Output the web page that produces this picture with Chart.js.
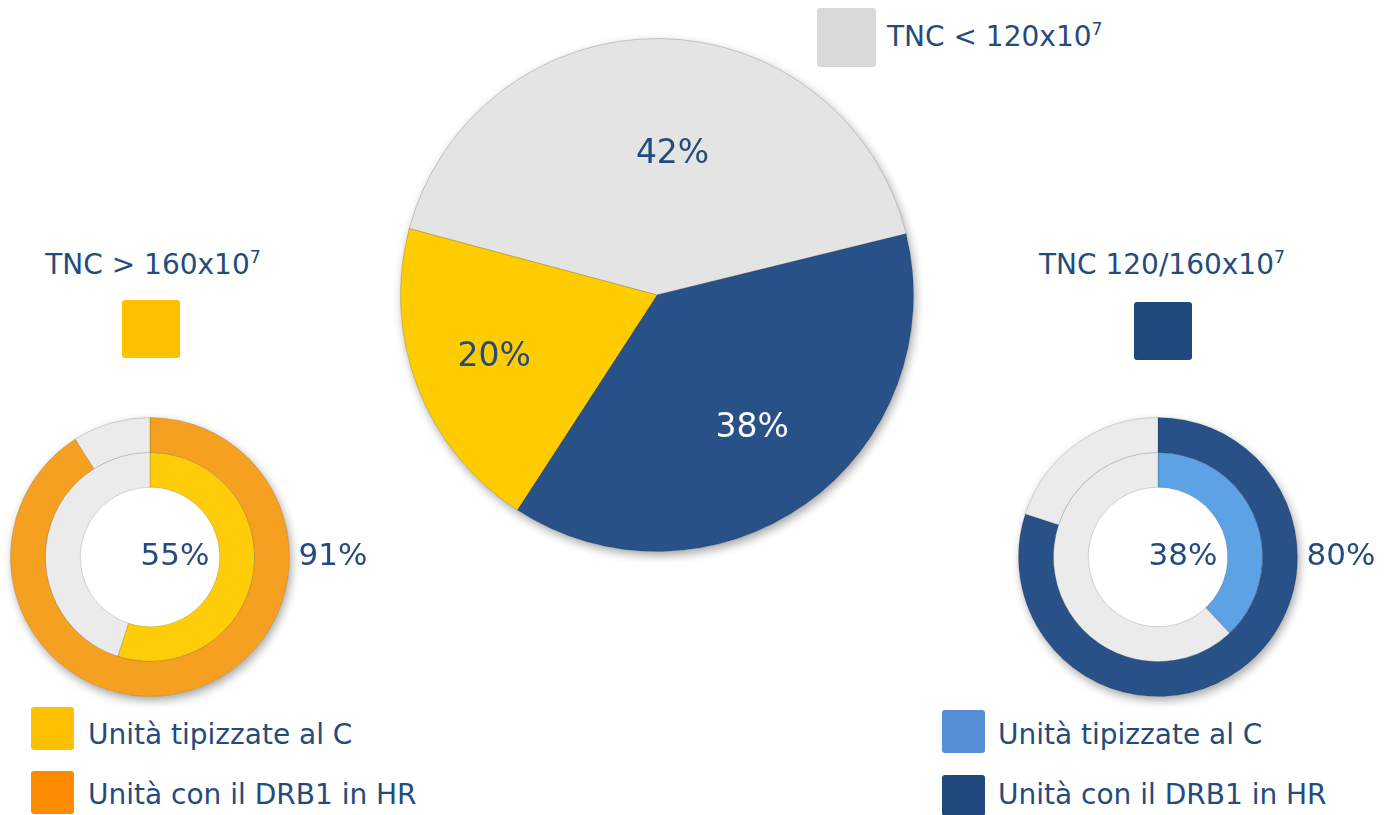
<!DOCTYPE html>
<html>
<head>
<meta charset="utf-8">
<script src="https://cdn.jsdelivr.net/npm/chart.js@4.4.1/dist/chart.umd.min.js"></script>
<style>
  body { margin: 0; width: 1389px; height: 815px; background: #fff; position: relative; overflow: hidden;
         font-family: "DejaVu Sans", Verdana, sans-serif; color: #234B7D; }
  canvas, .box, .txt { position: absolute; }
  .box { border-radius: 3px; }
  .txt { font-size: 28px; white-space: nowrap; line-height: 1; }
  .mid { transform: translateX(-50%); }
  sup { font-size: 62%; vertical-align: 0.65em; line-height: 0; }
</style>
</head>
<body>

<div class="box" style="left:817px;top:8px;width:59px;height:59px;background:#D9D9D9"></div>
<div class="txt" style="left:887px;top:23px">TNC &lt; 120x10<sup>7</sup></div>

<div class="txt mid" style="left:153px;top:251px">TNC &gt; 160x10<sup>7</sup></div>
<div class="box" style="left:122px;top:300px;width:58px;height:58px;background:#FFC000"></div>

<div class="txt mid" style="left:1162px;top:251px">TNC 120/160x10<sup>7</sup></div>
<div class="box" style="left:1134px;top:302px;width:58px;height:58px;background:#1F497D"></div>

<div class="box" style="left:31px;top:707px;width:43px;height:43px;background:#FFC000"></div>
<div class="txt" style="left:88px;top:721px">Unità tipizzate al C</div>
<div class="box" style="left:31px;top:771px;width:43px;height:43px;background:#FF8C00"></div>
<div class="txt" style="left:88px;top:781px">Unità con il DRB1 in HR</div>

<div class="box" style="left:942px;top:710px;width:43px;height:43px;background:#558ED5"></div>
<div class="txt" style="left:998px;top:721px">Unità tipizzate al C</div>
<div class="box" style="left:942px;top:775px;width:43px;height:41px;background:#1F497D"></div>
<div class="txt" style="left:998px;top:781px">Unità con il DRB1 in HR</div>

<canvas id="torta" width="534" height="534" style="left:390px;top:28px"></canvas>
<canvas id="anelloSx" width="400" height="300" style="left:0px;top:407px"></canvas>
<canvas id="anelloDx" width="381" height="300" style="left:1008px;top:407px"></canvas>

<script>
// distribuzione TNC (%)
var categorieTorta = ["TNC < 120x10^7", "TNC 120/160x10^7", "TNC > 160x10^7"];
var valoriTorta = [42, 38, 20];

// anelli: [DRB1 in HR, tipizzate al C] (%)
var anelliSx = [91, 55];
var anelliDx = [80, 38];
var categorieAnello = ["Unità con il DRB1 in HR", "Unità tipizzate al C"];

var BLU_TESTO = "#234B7D";
var FONT = '"DejaVu Sans", Verdana, sans-serif';

// ombra sotto il cerchio esterno
var ombra = {
  id: "ombra",
  beforeDatasetsDraw: function (chart) {
    var arc = chart.getDatasetMeta(0).data[0];
    if (!arc) return;
    var ctx = chart.ctx;
    ctx.save();
    ctx.shadowColor = "rgba(0,0,0,0.35)";
    ctx.shadowBlur = 10;
    ctx.shadowOffsetX = 2;
    ctx.shadowOffsetY = 4;
    ctx.fillStyle = "#fff";
    ctx.beginPath();
    ctx.arc(arc.x, arc.y, arc.outerRadius, 0, Math.PI * 2);
    ctx.fill();
    ctx.restore();
  }
};

var etichetteTorta = {
  id: "etichetteTorta",
  afterDatasetsDraw: function (chart) {
    var ctx = chart.ctx;
    var colori = [BLU_TESTO, "#ffffff", BLU_TESTO];
    var distanza = [0.55, 0.64, 0.68];
    chart.getDatasetMeta(0).data.forEach(function (arc, i) {
      var p = arc.getProps(["x", "y", "startAngle", "endAngle", "outerRadius"], true);
      var a = (p.startAngle + p.endAngle) / 2 + (i === 0 ? 0.1 : 0);
      var r = p.outerRadius * distanza[i];
      ctx.save();
      ctx.font = "33px " + FONT;
      ctx.fillStyle = colori[i];
      ctx.textAlign = "center";
      ctx.textBaseline = "middle";
      ctx.fillText(valoriTorta[i] + "%", p.x + Math.cos(a) * r, p.y + Math.sin(a) * r);
      ctx.restore();
    });
  }
};

var etichetteAnello = {
  id: "etichetteAnello",
  afterDatasetsDraw: function (chart) {
    var ctx = chart.ctx;
    var esterno = chart.getDatasetMeta(0).data[0];
    var valori = chart.options.plugins.etichetteAnello.valori;
    ctx.save();
    ctx.font = "31px " + FONT;
    ctx.fillStyle = BLU_TESTO;
    ctx.textBaseline = "middle";
    ctx.textAlign = "center";
    ctx.fillText(valori[1] + "%", esterno.x + 25, esterno.y);
    ctx.textAlign = "left";
    ctx.fillText(valori[0] + "%", esterno.x + esterno.outerRadius + 9, esterno.y);
    ctx.restore();
  }
};

new Chart(document.getElementById("torta"), {
  type: "pie",
  data: {
    labels: categorieTorta,
    datasets: [{
      data: valoriTorta,
      backgroundColor: ["#E4E4E4", "#285287", "#FFCC00"],
      borderColor: "rgba(0,0,0,0.18)",
      borderWidth: 1,
      hoverOffset: 0
    }]
  },
  options: {
    responsive: false,
    animation: false,
    events: [],
    rotation: -75,
    layout: { padding: 10 },
    plugins: { legend: { display: false }, tooltip: { enabled: false } }
  },
  plugins: [ombra, etichetteTorta]
});

function anello(id, valori, coloreEsterno, coloreInterno, padDestra) {
  new Chart(document.getElementById(id), {
    type: "doughnut",
    data: {
      labels: categorieAnello,
      datasets: [
        {
          label: categorieAnello[0],
          data: [valori[0], 100 - valori[0]],
          backgroundColor: [coloreEsterno, "#EBEBEB"],
          borderColor: "rgba(0,0,0,0.15)",
          borderWidth: 1,
          hoverOffset: 0
        },
        {
          label: categorieAnello[1],
          data: [valori[1], 100 - valori[1]],
          backgroundColor: [coloreInterno, "#EBEBEB"],
          borderColor: "rgba(0,0,0,0.15)",
          borderWidth: 1,
          hoverOffset: 0
        }
      ]
    },
    options: {
      responsive: false,
      animation: false,
      events: [],
      cutout: "50%",
      layout: { padding: { left: 10, right: padDestra, top: 10, bottom: 10 } },
      plugins: {
        legend: { display: false },
        tooltip: { enabled: false },
        etichetteAnello: { valori: valori }
      }
    },
    plugins: [ombra, etichetteAnello]
  });
}

anello("anelloSx", anelliSx, "#F5A020", "#FFCC0A", 110);
anello("anelloDx", anelliDx, "#285287", "#5EA2E6", 91);
</script>
</body>
</html>
